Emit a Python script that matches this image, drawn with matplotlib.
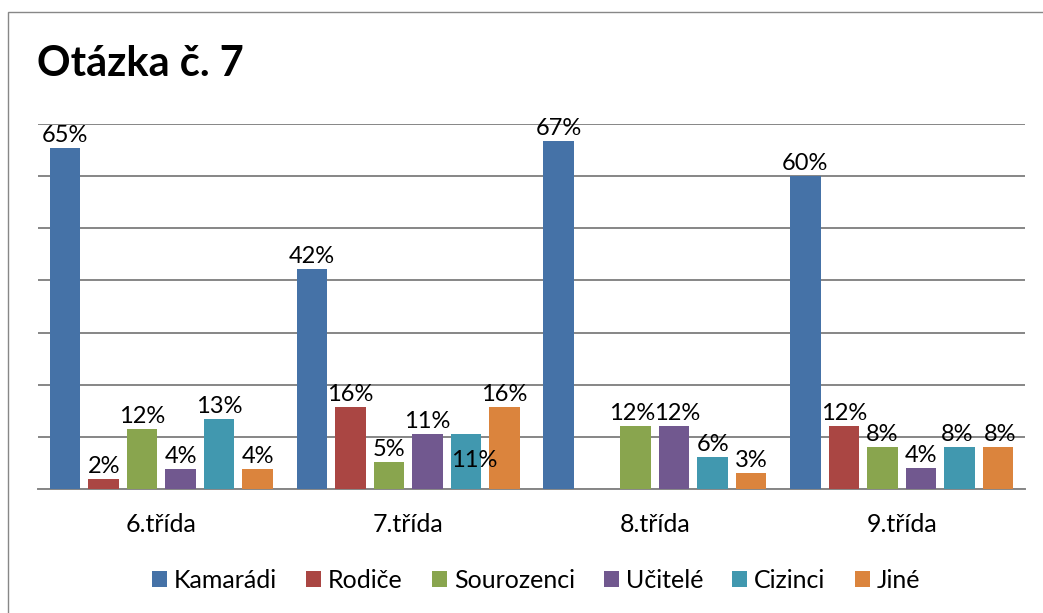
import matplotlib
matplotlib.use("Agg")
import matplotlib.pyplot as plt
from matplotlib.patches import Rectangle
import numpy as np

categories = ["6.třída", "7.třída", "8.třída", "9.třída"]
series_names = ["Kamarádi", "Rodiče", "Sourozenci", "Učitelé", "Cizinci", "Jiné"]
kamaradi = [65.38, 42.11, 66.67, 60.0]
rodice = [1.92, 15.79, None, 12.0]
sourozenci = [11.54, 5.26, 12.12, 8.0]
ucitele = [3.85, 10.53, 12.12, 4.0]
cizinci = [13.46, 10.53, 6.06, 8.0]
jine = [3.85, 15.79, 3.03, 8.0]
series_values = [kamaradi, rodice, sourozenci, ucitele, cizinci, jine]
title = "Otázka č. 7"

colors = ["#4572A7", "#AA4643", "#89A54E", "#71588F", "#4198AF", "#DB843D"]
FONT = "Lato"
FS = 18
LFS = 17
W, H = 1043, 613
fig = plt.figure(figsize=(W / 100, H / 100), dpi=100)

# chart border (extends past the right and bottom edge)
fig.patches.append(Rectangle((8 / W, -0.1), 1.2, (H - 12) / H + 0.1,
                             transform=fig.transFigure, fill=False,
                             edgecolor="#878787", linewidth=1.0))

ax = fig.add_axes([38 / W, (H - 489) / H, (1025 - 38) / W, (489 - 124) / H])
x = np.arange(len(categories))
step = 0.156
bw = 0.1235
# special label placements (pixel offsets) for crowded labels
label_shift = {(1, 4): (8, -33), (2, 2): (-3, 6), (2, 3): (3, 6),
               (3, 4): (-2, 6), (3, 5): (2, 6)}

for j, (name, vals) in enumerate(zip(series_names, series_values)):
    heights = [v if v is not None else 0 for v in vals]
    xs = x + (j - 2.5) * step
    ax.bar(xs, heights, width=bw, color=colors[j], label=name, zorder=3,
           edgecolor="none")
    for i, v in enumerate(vals):
        if v is None:
            continue
        dx, dy = label_shift.get((i, j), (0, 6))
        ax.annotate(f"{round(v)}%", (xs[i], v), xytext=(dx, dy),
                    textcoords="offset pixels", ha="center", va="baseline",
                    fontsize=LFS, family=FONT, color="black", zorder=5)

ax.set_xlim(-0.5, 3.5)
ax.set_ylim(0, 70)
ax.set_yticks(np.arange(0, 71, 10))
ax.yaxis.grid(True, color="#868686", linewidth=1.4, zorder=0)
ax.set_axisbelow(True)
ax.tick_params(axis="y", left=False, labelleft=False)
ax.tick_params(axis="x", bottom=False, pad=14)
ax.set_xticks(x)
ax.set_xticklabels(categories, fontsize=FS, family=FONT)
for s in ["top", "right", "left"]:
    ax.spines[s].set_visible(False)
ax.spines["bottom"].set_color("#868686")
ax.spines["bottom"].set_linewidth(1.4)

fig.text(37 / W, (H - 76) / H, title, fontsize=30, fontweight="bold",
         family=FONT, va="baseline", ha="left")

fig.legend(loc="center", bbox_to_anchor=(536 / W, (H - 580) / H),
           ncol=6, frameon=False, prop={"family": FONT, "size": FS},
           handlelength=0.6, handleheight=0.6, handletextpad=0.28,
           columnspacing=1.16, borderaxespad=0, borderpad=0)

fig.savefig("out.png", dpi=100, facecolor="white")
